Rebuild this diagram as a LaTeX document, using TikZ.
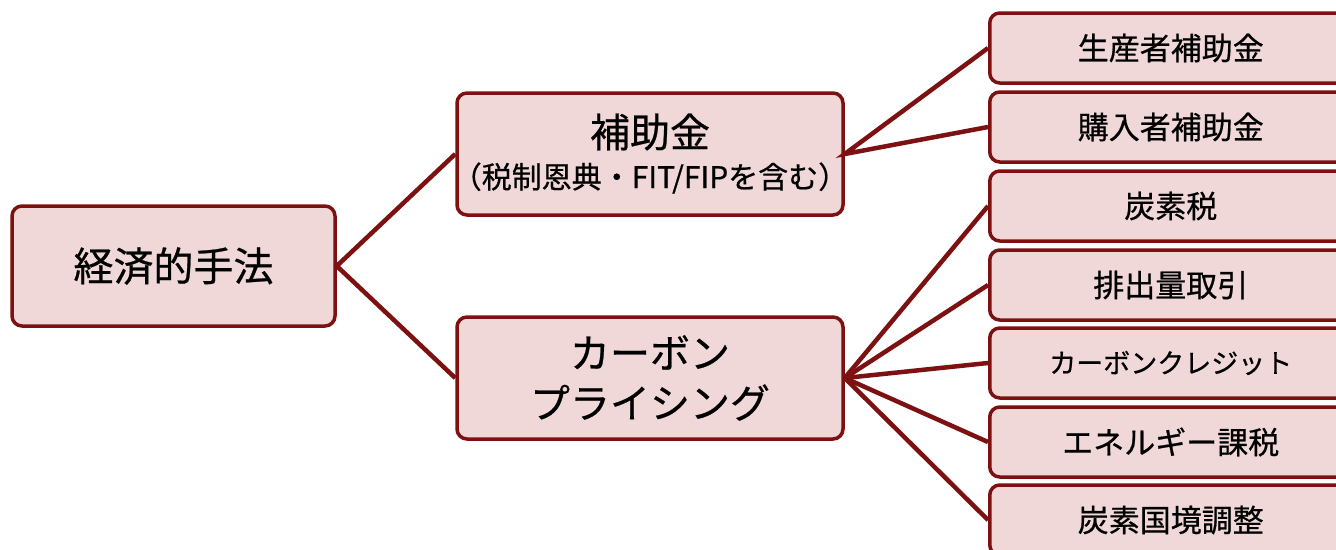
\documentclass[tikz,border=0pt]{standalone}
\usepackage{fontspec}
\setmainfont[FakeBold=0.6]{Noto Sans CJK JP}
\definecolor{bdr}{RGB}{125,17,17}
\definecolor{fil}{RGB}{240,216,217}
\begin{document}
\begin{tikzpicture}[x=1pt,y=-1pt,
  box/.style={draw=bdr,fill=fil,line width=3.5pt,rounded corners=10pt,inner sep=0pt,align=center},
  leaf/.style={box,minimum width=362pt,minimum height=70pt,anchor=west,font=\fontsize{31}{36}\selectfont},
  conn/.style={draw=bdr,line width=4.5pt}]
\clip (0,0) rectangle (1336,549);
\fill[white] (0,0) rectangle (1336,549);
\node[box,minimum width=323pt,minimum height=120pt,font=\fontsize{40}{48}\selectfont] (root) at (173.5,266) {経済的手法};
\node[box,minimum width=386pt,minimum height=122pt] (sub) at (650,154) {};
\node[font=\fontsize{40}{48}\selectfont,inner sep=0pt] (subt1) at (650,132) {補助金};
\node[font=\fontsize{30}{36}\selectfont,inner sep=0pt] (subt2) at (650,178) {（税制恩典・FIT/FIPを含む）};
\node[box,minimum width=386pt,minimum height=122pt,font=\fontsize{40}{50}\selectfont] (cp) at (650,378)
  {カーボン\\プライシング};
\node[leaf] (r1) at (988,48) {生産者補助金};
\node[leaf] (r2) at (988,127) {購入者補助金};
\node[leaf] (r3) at (988,206) {炭素税};
\node[leaf] (r4) at (988,285) {排出量取引};
\node[leaf,font=\fontsize{27}{32}\selectfont] (r5) at (988,363) {カーボンクレジット};
\node[leaf] (r6) at (988,442) {エネルギー課税};
\node[leaf] (r7) at (988,520) {炭素国境調整};
\draw[conn] (sub.west) -- (root.east) -- (cp.west);
\draw[conn] (r1.west) -- (sub.east) -- (r2.west);
\foreach \r in {r3,r4,r5,r6,r7} \draw[conn] (cp.east) -- (\r.west);
\end{tikzpicture}
\end{document}
